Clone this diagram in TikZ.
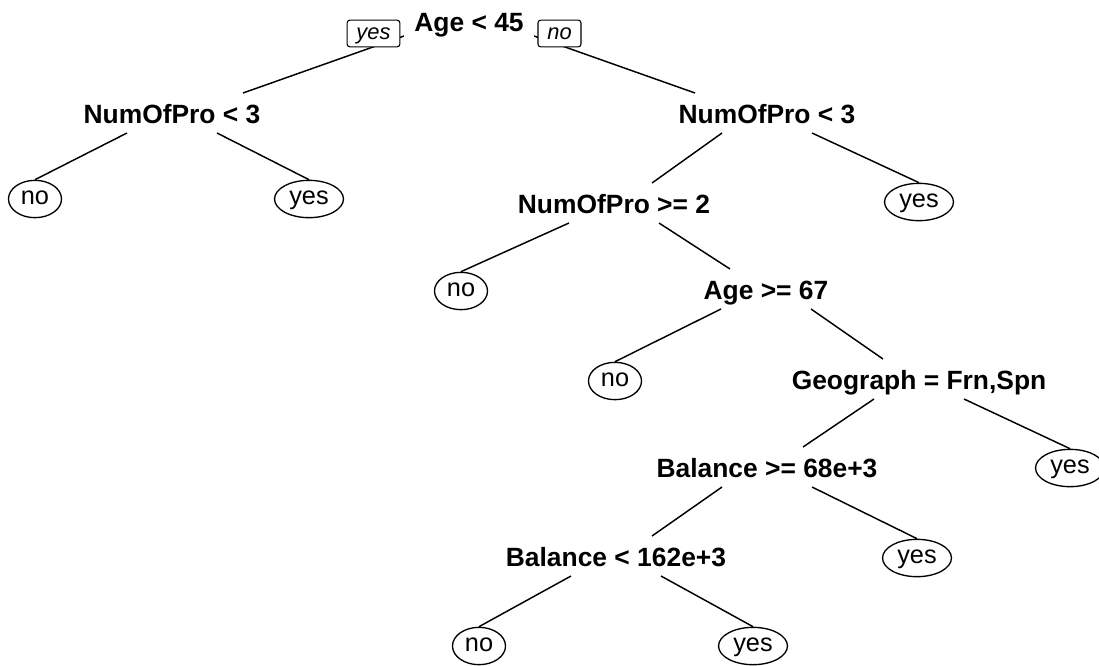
\documentclass[tikz,border=0pt]{standalone}
\usepackage{fontspec}
\setmainfont{Liberation Sans}
\usetikzlibrary{calc}
\usetikzlibrary{shapes.geometric}

\tikzset{
    split/.style={font=\fontsize{19.8}{22}\selectfont\bfseries, inner sep=0pt,
        text height=14.2pt, text depth=0pt},
    leaf/.style={ellipse, draw, line width=1pt, fill=white,
        font=\fontsize{19}{22}\selectfont, inner xsep=3.5pt, inner ysep=0pt,
        minimum height=28pt, text height=12pt, text depth=4pt},
    edgelab/.style={draw, line width=0.8pt, rounded corners=2pt, fill=white,
        font=\fontsize{16.4}{18}\selectfont\itshape, inner xsep=7pt, inner ysep=0pt,
        minimum height=20pt, text height=11.8pt, text depth=3.4pt},
    branch/.style={line width=1.1pt}
}

\begin{document}
\begin{tikzpicture}[x=0.75pt, y=-0.75pt]
    \useasboundingbox (0,0) rectangle (1099,665);

    % root and its two branches
    \coordinate (top) at (469,13);
    \node[split] (sp1) at (172,114) {NumOfPro < 3};
    \node[split] (sp2) at (767,114) {NumOfPro < 3};
    \draw[branch] (top) -- ($(sp1)+(71,-21)$);
    \draw[branch] (top) -- ($(sp2)+(-72,-21)$);
    \node[split, fill=white, inner xsep=7.5pt, inner ysep=4pt] (root) at (469,22) {Age < 45};
    \node[edgelab] (lyes) at (373.5,33.5) {yes};
    \node[edgelab] (lno) at (559.5,33.5) {no};

    % inner splits
    \node[split] (sp3) at (614,204) {NumOfPro >= 2};
    \node[split] (sp4) at (766,290) {Age >= 67};
    \node[split] (sp5) at (919,380) {Geograph = Frn,Spn};
    \node[split] (sp6) at (767,468) {Balance >= 68e+3};
    \node[split] (sp7) at (616,557) {Balance < 162e+3};

    % leaves
    \node[leaf] (lf1) at (35,199) {no};
    \node[leaf] (lf2) at (309,199) {yes};
    \node[leaf] (lf3) at (919,202) {yes};
    \node[leaf] (lf4) at (461,291) {no};
    \node[leaf] (lf5) at (615,381) {no};
    \node[leaf] (lf6) at (1070,468) {yes};
    \node[leaf] (lf7) at (917,558) {yes};
    \node[leaf] (lf8) at (479,646) {no};
    \node[leaf] (lf9) at (753,646) {yes};

    % branches
    \draw[branch] ($(sp1)+(-45,19)$) -- (lf1.north);
    \draw[branch] ($(sp1)+(45,19)$) -- (lf2.north);
    \draw[branch] ($(sp2)+(-45,19)$) -- ($(sp3)+(38,-21)$);
    \draw[branch] ($(sp2)+(45,19)$) -- (lf3.north);
    \draw[branch] ($(sp3)+(-45,19)$) -- (lf4.north);
    \draw[branch] ($(sp3)+(45,19)$) -- ($(sp4)+(-36,-21)$);
    \draw[branch] ($(sp4)+(-45,19)$) -- (lf5.north);
    \draw[branch] ($(sp4)+(45,19)$) -- ($(sp5)+(-36,-21)$);
    \draw[branch] ($(sp5)+(-45,19)$) -- ($(sp6)+(36,-21)$);
    \draw[branch] ($(sp5)+(45,19)$) -- (lf6.north);
    \draw[branch] ($(sp6)+(-45,19)$) -- ($(sp7)+(36,-21)$);
    \draw[branch] ($(sp6)+(45,19)$) -- (lf7.north);
    \draw[branch] ($(sp7)+(-45,19)$) -- (lf8.north);
    \draw[branch] ($(sp7)+(45,19)$) -- (lf9.north);
\end{tikzpicture}
\end{document}
